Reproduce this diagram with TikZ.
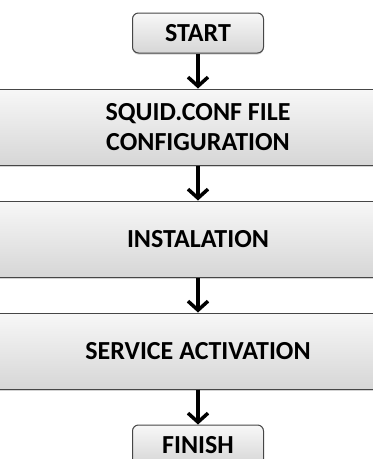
\documentclass[tikz,border=0pt]{standalone}
\usepackage{fontspec}
\setmainfont{Carlito}
\usetikzlibrary{positioning,arrows.meta,shadows}

\begin{document}
\begin{tikzpicture}[
  x=1pt,y=1pt,
  font=\fontsize{26}{30}\selectfont\bfseries,
  box/.style={draw=gray!55!black,line width=1pt,align=center,top color=gray!6,bottom color=gray!32,
              drop shadow={shadow xshift=0pt,shadow yshift=-1.5pt,opacity=.35},inner sep=3pt},
  term/.style={box,rounded corners=6pt,minimum width=131pt,minimum height=40pt},
  stage/.style={box,minimum width=420pt,minimum height=76pt},
  arr/.style={-{Straight Barb[length=9pt,width=20pt,line width=3.5pt]},line width=3.5pt,black},
  node distance=35pt,
]
\useasboundingbox (0,0) rectangle (373,-459);
\clip (0,0) rectangle (373,-459);
\node[term] (start) at (198,-33) {START};
\node[stage, below=of start] (conf) {SQUID.CONF FILE\\CONFIGURATION};
\node[stage, below=of conf] (install) {INSTALATION};
\node[stage, below=of install] (service) {SERVICE ACTIVATION};
\node[term, below=of service] (finish) {FINISH};
\draw[arr] (start) -- (conf);
\draw[arr] (conf) -- (install);
\draw[arr] (install) -- (service);
\draw[arr] (service) -- (finish);
\end{tikzpicture}
\end{document}
